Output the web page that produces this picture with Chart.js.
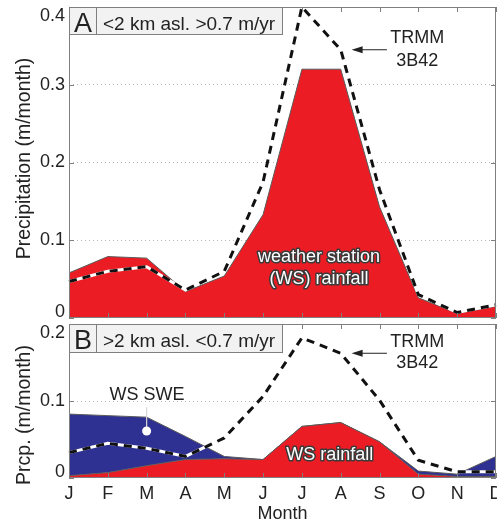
<!DOCTYPE html>
<html>
<head>
<meta charset="utf-8">
<script src="https://cdn.jsdelivr.net/npm/chart.js@4.4.1/dist/chart.umd.min.js"></script>
<style>
  html, body { margin: 0; padding: 0; background: #fff; overflow: hidden; }
  #wrap { position: relative; width: 497px; height: 525px; }
  canvas { position: absolute; left: 0; }
  #lowChart { top: 0; }
  #highChart { top: 320px; }
</style>
</head>
<body>
<div id="wrap">
  <canvas id="lowChart" width="497" height="322"></canvas>
  <canvas id="highChart" width="497" height="205"></canvas>
</div>
<script>
// Monthly precipitation, low (<2 km) and high (>2 km) stations vs TRMM 3B42
const months = ['J', 'F', 'M', 'A', 'M', 'J', 'J', 'A', 'S', 'O', 'N', 'D'];

// panel A: <2 km asl, >0.7 m/yr (m/month)
const rainLow = [0.058, 0.079, 0.077, 0.034, 0.054, 0.133, 0.320, 0.320, 0.143, 0.026, 0.006, 0.015];
const trmmLow = [0.047, 0.060, 0.066, 0.036, 0.060, 0.175, 0.400, 0.345, 0.165, 0.030, 0.007, 0.017];

// panel B: >2 km asl, <0.7 m/yr (m/month); SWE sits on top of rainfall
const rainHigh = [0.003, 0.007, 0.016, 0.024, 0.025, 0.024, 0.067, 0.072, 0.047, 0.005, 0.002, 0.002];
const sweHigh = [0.080, 0.074, 0.063, 0.030, 0.003, 0, 0, 0, 0, 0.004, 0.003, 0.026];
const trmmHigh = [0.033, 0.045, 0.0385, 0.028, 0.052, 0.106, 0.182, 0.162, 0.101, 0.023, 0.008, 0.008];

const lowMax = 0.4, highMax = 0.2, yStep = 0.1;

const FONT = '"Liberation Sans", Arial, Helvetica, sans-serif';
const RED = '#ec1c24', BLUE = '#2e3192', EDGE = '#5b5b5b', FRAME = '#7f7f7f', INK = '#222';

Chart.defaults.font.family = FONT;
Chart.defaults.color = INK;

// order also sets the stacking order: rainfall first, SWE above it
function areaSet(data, color, fill, stack, order) {
  return { data, fill, stack, order, backgroundColor: color, borderColor: EDGE, borderWidth: 1, pointRadius: 0, tension: 0 };
}
function trmmSets(data) {
  return [
    { data, stack: 'tw', order: 1, fill: false, borderColor: '#fff', borderWidth: 3, pointRadius: 0, tension: 0 },
    { data, stack: 'tk', order: 0, fill: false, borderColor: '#111', borderWidth: 3, borderDash: [8, 6], pointRadius: 0, tension: 0 }
  ];
}

// frame, inward ticks, y labels, header box and text notes
function makeDecor(cfg) {
  return {
    id: 'decor',
    afterDraw(chart) {
      const { ctx, chartArea: a, scales: { x, y } } = chart;
      ctx.save();
      ctx.strokeStyle = FRAME;
      ctx.lineWidth = 1;
      ctx.strokeRect(a.left + 0.5, a.top + 0.5, a.right - a.left - 1, a.bottom - a.top - 1);
      ctx.beginPath();
      x.ticks.forEach((t, i) => {
        const px = Math.round(x.getPixelForTick(i)) + 0.5;
        ctx.moveTo(px, a.bottom); ctx.lineTo(px, a.bottom - 5);
        ctx.moveTo(px, a.top); ctx.lineTo(px, a.top + 5);
      });
      y.ticks.forEach(t => {
        const py = Math.round(y.getPixelForValue(t.value)) + 0.5;
        ctx.moveTo(a.left, py); ctx.lineTo(a.left + 5, py);
        ctx.moveTo(a.right, py); ctx.lineTo(a.right - 5, py);
      });
      ctx.stroke();

      // tick labels stay inside the frame at both ends
      ctx.fillStyle = INK;
      ctx.font = '18px ' + FONT;
      ctx.textAlign = 'right';
      ctx.textBaseline = 'middle';
      y.ticks.forEach(t => {
        let py = y.getPixelForValue(t.value);
        py = Math.min(Math.max(py, a.top + 9), a.bottom - 6);
        ctx.fillText(t.label, a.left - 4, py);
      });

      ctx.save();
      ctx.translate(25, (a.top + a.bottom) / 2 + cfg.titleShift);
      ctx.rotate(-Math.PI / 2);
      ctx.textAlign = 'center';
      ctx.font = '19.5px ' + FONT;
      ctx.fillText(cfg.yTitle, 0, 0);
      ctx.restore();

      // panel header
      const bx = a.left, by = a.top, bw = 213, bh = cfg.boxH;
      ctx.fillStyle = '#f2f2f2';
      ctx.fillRect(bx, by, bw, bh);
      ctx.strokeStyle = FRAME;
      ctx.strokeRect(bx + 0.5, by + 0.5, bw, bh);
      ctx.beginPath();
      ctx.moveTo(bx + 27.5, by); ctx.lineTo(bx + 27.5, by + bh);
      ctx.stroke();
      ctx.fillStyle = INK;
      ctx.textBaseline = 'alphabetic';
      ctx.textAlign = 'center';
      ctx.font = '27px ' + FONT;
      ctx.fillText(cfg.letter, bx + 14, by + 25);
      ctx.textAlign = 'left';
      ctx.font = '19px ' + FONT;
      ctx.fillText(cfg.header, bx + 34, by + 22.5);

      // notes placed in data coordinates
      ctx.textAlign = 'center';
      ctx.textBaseline = 'middle';
      cfg.notes.forEach(n => {
        if (n.kind === 'arrow') {
          const x1 = x.getPixelForValue(n.from), x2 = x.getPixelForValue(n.to), py = y.getPixelForValue(n.y);
          ctx.strokeStyle = INK; ctx.fillStyle = INK; ctx.lineWidth = 1;
          ctx.beginPath(); ctx.moveTo(x1, py); ctx.lineTo(x2 + 6, py); ctx.stroke();
          ctx.beginPath(); ctx.moveTo(x2, py); ctx.lineTo(x2 + 11, py - 3.5); ctx.lineTo(x2 + 11, py + 3.5); ctx.closePath(); ctx.fill();
        } else if (n.kind === 'pin') {
          const px = x.getPixelForValue(n.x);
          ctx.strokeStyle = '#d8d8d8'; ctx.lineWidth = 1.2;
          ctx.beginPath(); ctx.moveTo(px, y.getPixelForValue(n.y1)); ctx.lineTo(px, y.getPixelForValue(n.y2)); ctx.stroke();
          ctx.fillStyle = '#fff';
          ctx.beginPath(); ctx.arc(px, y.getPixelForValue(n.dot), 4.5, 0, Math.PI * 2); ctx.fill();
        } else {
          const px = x.getPixelForValue(n.x), py = y.getPixelForValue(n.y);
          ctx.font = '18px ' + FONT;
          if (n.halo) {
            ctx.lineJoin = 'round'; ctx.lineWidth = 3; ctx.strokeStyle = '#3a3a3a';
            ctx.strokeText(n.text, px, py);
            ctx.fillStyle = '#fff';
          } else {
            ctx.fillStyle = INK;
          }
          ctx.fillText(n.text, px, py);
        }
      });
      ctx.restore();
    }
  };
}

function baseOptions(maxY, stacked, showMonths, xHeight) {
  return {
    responsive: false,
    animation: false,
    devicePixelRatio: 1,
    layout: { padding: showMonths ? { top: 4, right: 1, bottom: 0, left: 0 } : { top: 7, right: 1, bottom: 4, left: 0 } },
    plugins: { legend: { display: false }, tooltip: { enabled: false } },
    scales: {
      x: {
        type: 'category',
        offset: false,
        grid: { display: false },
        border: { display: false },
        ticks: { display: showMonths, padding: -3, maxRotation: 0, autoSkip: false, font: { size: 18 } },
        title: { display: showMonths, text: 'Month', font: { size: 18 }, padding: { top: 0, bottom: 0 } },
        afterFit: s => { s.height = xHeight; s.paddingLeft = 0; s.paddingRight = 0; }
      },
      y: {
        min: 0, max: maxY,
        stacked,
        ticks: { display: false, stepSize: yStep },
        grid: {
          drawTicks: false,
          lineWidth: 1,
          color: c => (c.tick && c.tick.value > 0 && c.tick.value < maxY - 1e-9) ? '#b5b5b5' : 'rgba(0,0,0,0)'
        },
        border: { display: false, dash: [1, 3] },
        afterFit: s => { s.width = 69; s.paddingTop = 0; s.paddingBottom = 0; }
      }
    }
  };
}

new Chart(document.getElementById('lowChart'), {
  type: 'line',
  data: {
    labels: months,
    datasets: [areaSet(rainLow, RED, 'origin', 'ws', 3), ...trmmSets(trmmLow)]
  },
  options: baseOptions(lowMax, false, false, 0),
  plugins: [makeDecor({
    letter: 'A', header: '<2 km asl. >0.7 m/yr', boxH: 27,
    yTitle: 'Precipitation (m/month)', titleShift: -4,
    notes: [
      { text: 'TRMM', x: 8.97, y: 0.360 },
      { text: '3B42', x: 8.97, y: 0.330 },
      { kind: 'arrow', from: 8.19, to: 7.28, y: 0.345 },
      { text: 'weather station', x: 6.44, y: 0.078, halo: true },
      { text: '(WS) rainfall', x: 6.44, y: 0.050, halo: true }
    ]
  })]
});

new Chart(document.getElementById('highChart'), {
  type: 'line',
  data: {
    labels: months,
    datasets: [
      areaSet(rainHigh, RED, 'origin', 'ws', 3),
      areaSet(sweHigh, BLUE, '-1', 'ws', 4),
      ...trmmSets(trmmHigh)
    ]
  },
  options: baseOptions(highMax, true, true, 47),
  plugins: [makeDecor({
    letter: 'B', header: '>2 km asl. <0.7 m/yr', boxH: 28,
    yTitle: 'Prcp. (m/month)', titleShift: 14,
    notes: [
      { text: 'TRMM', x: 8.97, y: 0.177 },
      { text: '3B42', x: 8.97, y: 0.149 },
      { kind: 'arrow', from: 8.19, to: 7.28, y: 0.162 },
      { text: 'WS rainfall', x: 6.72, y: 0.030, halo: true },
      { text: 'WS SWE', x: 2.01, y: 0.108 },
      { kind: 'pin', x: 2.0, y1: 0.092, y2: 0.066, dot: 0.061 }
    ]
  })]
});
</script>
</body>
</html>
